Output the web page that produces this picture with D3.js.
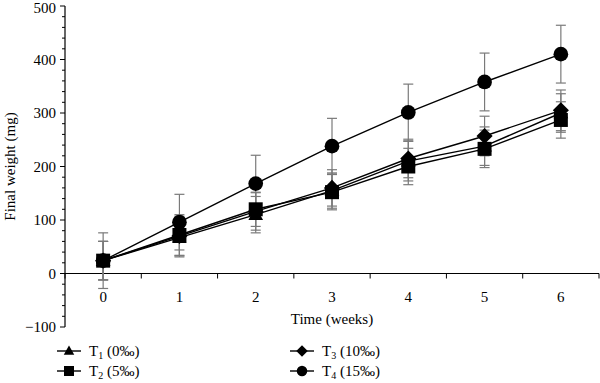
<!DOCTYPE html>
<html>
<head>
<meta charset="utf-8">
<script src="https://cdn.jsdelivr.net/npm/d3@7"></script>
<style>
  body { margin: 0; background: #fff; }
  svg { font-family: "Liberation Serif", "DejaVu Serif", serif; }
</style>
</head>
<body>
<div id="chart"></div>
<script>
// weeks on the x axis
const weeks = [0, 1, 2, 3, 4, 5, 6];

// mean final weight (mg) per treatment
const t1Mean = [24, 67, 110, 155, 210, 238, 300];
const t2Mean = [24, 72, 120, 152, 200, 233, 287];
const t3Mean = [24, 70, 116, 160, 215, 257, 305];
const t4Mean = [24, 96, 168, 238, 301, 358, 410];

// error bar half-lengths
const t1Err = [36, 36, 34, 33, 37, 36, 36];
const t2Err = [36, 38, 32, 33, 34, 35, 34];
const t3Err = [36, 37, 35, 34, 36, 37, 38];
const t4Err = [52, 52, 53, 52, 53, 54, 54];

const seriesNames = ["T1", "T2", "T3", "T4"];
const seriesLabels = ["(0\u2030)", "(5\u2030)", "(10\u2030)", "(15\u2030)"];
const seriesShapes = ["triangle", "square", "diamond", "circle"];

const yTicks = [-100, 0, 100, 200, 300, 400, 500];

const series = [
  { mean: t1Mean, err: t1Err },
  { mean: t2Mean, err: t2Err },
  { mean: t3Mean, err: t3Err },
  { mean: t4Mean, err: t4Err }
].map((s, i) => ({ ...s, name: seriesNames[i], label: seriesLabels[i], shape: seriesShapes[i] }));

const width = 600, height = 383;
const svg = d3.select("#chart").append("svg")
  .attr("width", width).attr("height", height);

const x = d3.scaleLinear().domain([-0.5, 6.5]).range([65, 599]);
const y = d3.scaleLinear().domain([-100, 500]).range([327, 6]);

// marker paths, r is roughly the half-size in px
function symbolPath(shape, r) {
  if (shape === "triangle") return `M0,${-r * 1.1}L${r * 1.05},${r * 0.75}L${-r * 1.05},${r * 0.75}Z`;
  if (shape === "square") return `M${-r},${-r}H${r}V${r}H${-r}Z`;
  if (shape === "diamond") return `M0,${-r * 1.15}L${r * 1.15},0L0,${r * 1.15}L${-r * 1.15},0Z`;
  return d3.arc()({ innerRadius: 0, outerRadius: r * 1.05, startAngle: 0, endAngle: 2 * Math.PI });
}

// y axis (line at x = 65)
const yAxis = svg.append("g").attr("transform", "translate(65,0)");
yAxis.append("line").attr("y1", y(500)).attr("y2", y(-100)).attr("stroke", "#000").attr("stroke-width", 1.2);
yAxis.selectAll(".minor").data(d3.range(-100, 501, 20)).enter()
  .append("line")
  .attr("x1", d => d % 100 === 0 ? -5 : -3).attr("x2", 0)
  .attr("y1", d => y(d)).attr("y2", d => y(d))
  .attr("stroke", "#000").attr("stroke-width", 1);
yAxis.selectAll(".lbl").data(yTicks).enter()
  .append("text")
  .attr("x", -9).attr("y", d => Math.max(y(d) + 5, 13))
  .attr("text-anchor", "end").attr("font-size", 15)
  .text(d => d < 0 ? "\u2212" + Math.abs(d) : d);

// x axis (at y = 0)
const xAxis = svg.append("g").attr("transform", `translate(0,${y(0)})`);
xAxis.append("line").attr("x1", x(-0.5)).attr("x2", x(6.5)).attr("stroke", "#000").attr("stroke-width", 1.2);
xAxis.selectAll(".tick").data(d3.range(-0.5, 6.6, 1)).enter()
  .append("line")
  .attr("x1", d => x(d)).attr("x2", d => x(d))
  .attr("y1", 0).attr("y2", 5)
  .attr("stroke", "#000").attr("stroke-width", 1);
xAxis.selectAll(".lbl").data(weeks).enter()
  .append("text")
  .attr("x", d => x(d)).attr("y", 28)
  .attr("text-anchor", "middle").attr("font-size", 15)
  .text(d => d);

// axis titles
svg.append("text").attr("x", x(3)).attr("y", 324)
  .attr("text-anchor", "middle").attr("font-size", 15).text("Time (weeks)");
svg.append("text")
  .attr("transform", `translate(15,${y(200)}) rotate(-90)`)
  .attr("text-anchor", "middle").attr("font-size", 15).text("Final weight (mg)");

// error bars
const errG = svg.append("g");
series.forEach(s => {
  weeks.forEach((w, i) => {
    const cx = x(w), top = y(s.mean[i] + s.err[i]), bot = y(s.mean[i] - s.err[i]);
    errG.append("line").attr("x1", cx).attr("x2", cx).attr("y1", top).attr("y2", bot)
      .attr("stroke", "#7a7a7a").attr("stroke-width", 1.2);
    [top, bot].forEach(v => errG.append("line")
      .attr("x1", cx - 5).attr("x2", cx + 5).attr("y1", v).attr("y2", v)
      .attr("stroke", "#7a7a7a").attr("stroke-width", 1.2));
  });
});

// lines
const line = d3.line().x((d, i) => x(weeks[i])).y(d => y(d));
series.forEach(s => {
  svg.append("path").attr("d", line(s.mean))
    .attr("fill", "none").attr("stroke", "#000").attr("stroke-width", 1.4);
});

// markers
series.forEach(s => {
  svg.append("g").selectAll("path").data(s.mean).enter()
    .append("path")
    .attr("d", symbolPath(s.shape, 7))
    .attr("transform", (d, i) => `translate(${x(weeks[i])},${y(d)})`)
    .attr("fill", "#000");
});

// legend
const legendPos = [[57, 351], [57, 371], [290, 351], [290, 371]];
series.forEach((s, i) => {
  const [lx, ly] = legendPos[i];
  const g = svg.append("g").attr("transform", `translate(${lx},${ly})`);
  g.append("line").attr("x1", 0).attr("x2", 24).attr("y1", 0).attr("y2", 0)
    .attr("stroke", "#000").attr("stroke-width", 1.4);
  g.append("path").attr("d", symbolPath(s.shape, 5))
    .attr("transform", "translate(12,0)").attr("fill", "#000");
  const t = g.append("text").attr("x", 32).attr("y", 5).attr("font-size", 15);
  t.append("tspan").text("T");
  t.append("tspan").attr("font-size", 10).attr("dy", 3).text(s.name.slice(1));
  t.append("tspan").attr("dy", -3).text(" " + s.label);
});
</script>
</body>
</html>
